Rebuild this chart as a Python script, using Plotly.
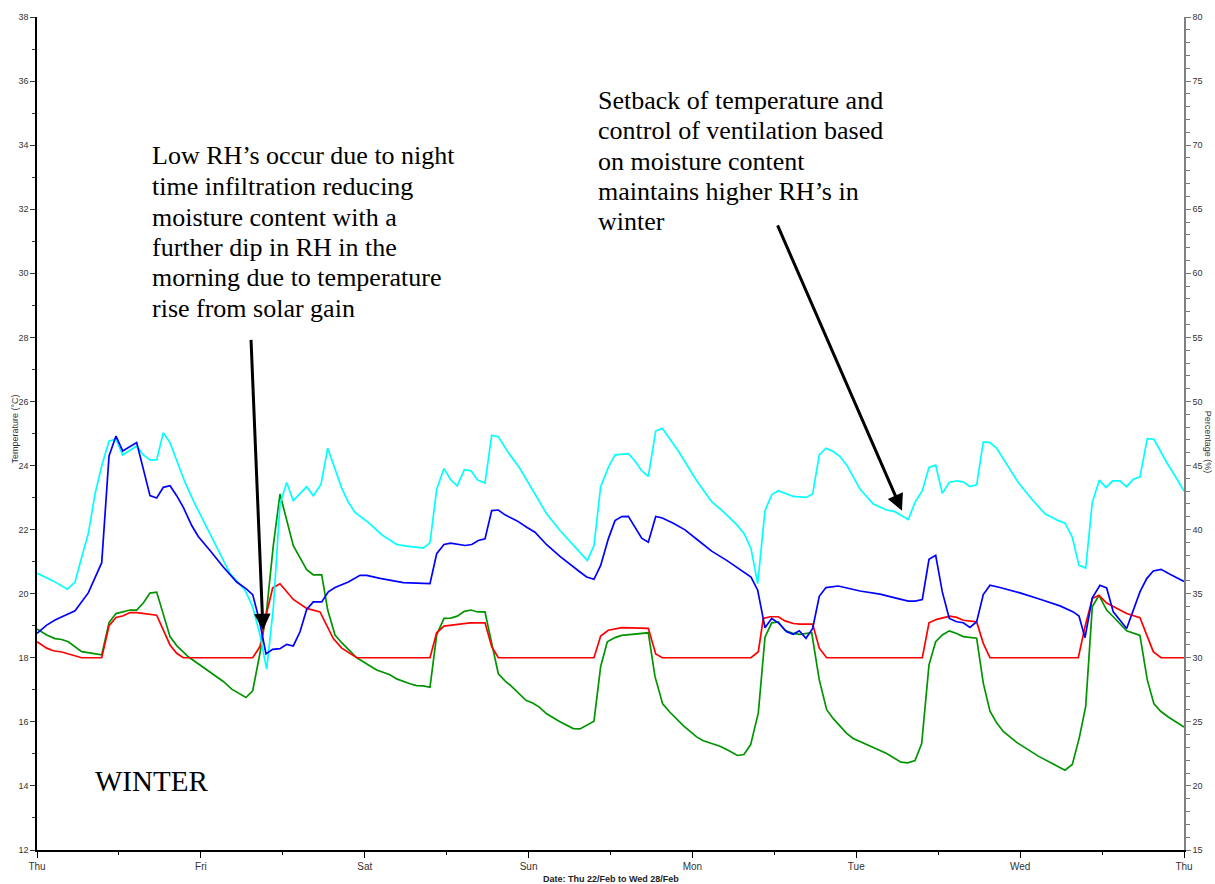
import plotly.graph_objects as go

# ---------------- data (hours since Thu 00:00) ----------------
day_labels = ["Thu", "Fri", "Sat", "Sun", "Mon", "Tue", "Wed", "Thu"]
day_ticks = [0, 24, 48, 72, 96, 120, 144, 168]
half_day_ticks = [12, 36, 60, 84, 108, 132, 156]

# red - temperature (°C, left axis)
red_t = [0, 1.42, 2.39, 3.62, 6.55, 9.48, 10.55, 11.57, 12.64, 13.62, 14.6, 16.55, 17.53, 19.48, 20.46, 21.43,
         31.59, 32.66, 33.64, 34.52, 35.59, 37.54, 39.5, 41.45, 43.4, 44.63, 46.83, 57.56, 58.54, 59.61, 63.42,
         65.62, 66.6, 67.57, 81.58, 82.56, 83.68, 85.64, 89.54, 90.62, 91.59, 104.58, 105.65, 106.38, 107.36,
         108.58, 109.56, 110.77, 111.75, 113.61, 114.58, 115.66, 129.67, 130.65, 131.78, 133.72, 134.7, 135.67,
         137.63, 138.6, 139.58, 152.52, 153.5, 154.57, 155.55, 156.67, 159.6, 161.55, 163.5, 164.63, 168]
red_v = [18.5, 18.3, 18.22, 18.18, 18.0, 18.0, 19.0, 19.26, 19.31, 19.41, 19.41, 19.35, 19.33, 18.4, 18.14, 18.0,
         18.0, 18.35, 19.4, 20.18, 20.31, 19.82, 19.54, 19.43, 18.6, 18.3, 18.0, 18.0, 18.78, 18.99, 19.09,
         19.09, 18.35, 18.0, 18.0, 18.68, 18.86, 18.94, 18.92, 18.12, 18.0, 18.0, 18.19, 19.23, 19.28,
         19.28, 19.15, 19.07, 19.05, 19.05, 18.3, 18.0, 18.0, 19.09, 19.2, 19.3, 19.26, 19.17,
         19.12, 18.45, 18.0, 18.0, 18.97, 19.85, 19.95, 19.71, 19.38, 19.25, 18.19, 18.0, 18.0]

# green - temperature (°C, left axis)
green_t = [0, 1.42, 2.64, 3.62, 4.58, 5.57, 6.55, 9.48, 10.55, 11.57, 12.64, 13.62, 14.6, 15.57, 16.55, 17.53,
           19.48, 20.46, 22.16, 25.34, 27.29, 28.52, 30.61, 31.59, 32.66, 33.64, 34.61, 35.59, 37.54, 39.5, 40.47,
           41.7, 42.58, 43.65, 44.63, 46.83, 49.75, 51.7, 52.68, 54.63, 55.61, 56.58, 57.56, 58.54, 59.61, 60.59,
           61.56, 62.59, 63.57, 64.55, 65.62, 66.6, 67.57, 68.55, 69.28, 71.62, 72.6, 73.57, 74.65, 76.6, 78.55,
           79.53, 81.58, 82.56, 83.53, 84.66, 85.64, 89.54, 90.52, 91.64, 92.71, 94.66, 96.62, 97.59, 100.04,
           101.5, 102.57, 103.55, 104.53, 105.65, 106.63, 107.61, 108.58, 109.56, 110.77, 111.75, 113.47, 114.58,
           115.66, 116.63, 118.59, 119.56, 122.49, 124.45, 126.55, 127.53, 128.6, 129.58, 130.65, 131.63, 132.6,
           133.62, 134.7, 135.67, 137.63, 138.6, 139.58, 140.56, 141.53, 143.49, 146.66, 148.85, 150.57, 151.64,
           152.66, 153.6, 154.57, 155.55, 156.67, 157.64, 159.6, 161.55, 162.62, 163.6, 164.58, 165.7, 167.66, 168]
green_v = [18.9, 18.71, 18.6, 18.57, 18.5, 18.33, 18.19, 18.09, 19.1, 19.38, 19.43, 19.49, 19.49, 19.71, 20.02, 20.05,
           18.66, 18.38, 18.03, 17.57, 17.26, 17.02, 16.76, 16.97, 18.14, 19.49, 21.5, 23.11, 21.5, 20.75, 20.59,
           20.59, 19.49, 18.71, 18.47, 18.0, 17.62, 17.47, 17.34, 17.19, 17.13, 17.12, 17.08, 18.71, 19.23, 19.24,
           19.3, 19.45, 19.49, 19.43, 19.43, 18.45, 17.5, 17.28, 17.15, 16.67, 16.59, 16.46, 16.25, 16.0, 15.79,
           15.78, 16.02, 17.73, 18.5, 18.63, 18.7, 18.78, 17.41, 16.56, 16.3, 15.88, 15.53, 15.41, 15.24,
           15.08, 14.95, 14.98, 15.29, 16.28, 18.64, 19.09, 19.12, 18.86, 18.76, 18.73, 18.78, 17.31,
           16.38, 16.1, 15.64, 15.48, 15.19, 15.01, 14.74, 14.72, 14.79, 15.32, 17.78, 18.5, 18.71,
           18.84, 18.76, 18.66, 18.61, 17.21, 16.33, 15.97, 15.7, 15.36, 14.93, 14.69, 14.49, 14.67,
           15.5, 16.48, 19.59, 19.95, 19.49, 19.28, 18.84, 18.7, 17.31, 16.56, 16.33, 16.15, 15.88, 15.84]

# blue - percentage (%, right axis)
blue_t = [0, 1.42, 2.64, 4.35, 5.57, 7.51, 9.48, 10.55, 11.57, 12.55, 14.6, 16.55, 17.53, 18.5, 19.48, 20.46, 21.43,
          22.66, 23.62, 25.34, 27.29, 29.25, 30.61, 31.59, 32.56, 33.54, 34.52, 35.59, 36.57, 37.54, 38.52, 39.5,
          40.47, 41.7, 42.67, 43.65, 45.6, 47.31, 48.29, 50.24, 53.65, 57.56, 58.54, 59.61, 60.59, 62.69, 63.67,
          64.64, 65.62, 66.6, 67.57, 68.55, 70.26, 71.73, 72.94, 74.65, 76.6, 79.53, 80.51, 81.58, 82.56, 83.68,
          84.66, 85.64, 86.61, 88.57, 89.54, 90.62, 91.59, 93.2, 94.91, 96.86, 98.82, 101.02, 102.97, 104.58,
          105.56, 106.63, 107.61, 108.58, 109.81, 110.77, 111.65, 112.63, 113.61, 114.58, 115.56, 117.36, 120.54,
          123.47, 125.67, 127.62, 128.6, 129.67, 130.65, 131.63, 132.6, 133.62, 134.7, 135.67, 136.65, 137.63,
          138.6, 139.58, 141.05, 143.98, 146.91, 149.84, 151.78, 152.62, 153.5, 154.57, 155.69, 156.67, 157.64,
          159.6, 161.55, 162.54, 163.5, 164.63, 165.95, 167.66, 168]
blue_v = [31.9, 32.55, 32.94, 33.33, 33.66, 35.06, 37.42, 45.75, 47.3, 46.14, 46.79, 42.65, 42.47, 43.3, 43.42, 42.65,
          41.74, 40.32, 39.46, 38.37, 37.08, 35.91, 35.4, 34.93, 32.94, 30.3, 30.66, 30.71, 31.05, 30.92, 32.03,
          33.77, 34.36, 34.36, 35.14, 35.48, 35.91, 36.43, 36.43, 36.2, 35.87, 35.79, 38.12, 38.84, 38.94, 38.76,
          38.84, 39.15, 39.28, 41.48, 41.53, 41.15, 40.7, 40.19, 39.8, 38.82, 37.91, 36.69, 36.3, 36.12, 37.21,
          39.28, 40.7, 41.02, 41.04, 39.33, 39.02, 41.02, 40.91, 40.5, 39.98, 39.15, 38.32, 37.6, 36.9, 36.3,
          35.27, 32.34, 33.07, 32.73, 32.03, 31.83, 32.11, 31.52, 32.29, 34.8, 35.48, 35.6, 35.21, 34.96,
          34.67, 34.42, 34.42, 34.55, 37.68, 37.99, 35.14, 33.07, 32.81, 32.73, 32.37, 32.81, 34.93, 35.66,
          35.48, 35.06, 34.57, 34.05, 33.58, 33.25, 31.57, 34.67, 35.66, 35.45, 33.58, 32.29, 35.14, 36.18,
          36.77, 36.9, 36.51, 36.05, 35.95]

# cyan - percentage (%, right axis)
cyan_t = [0, 2.39, 4.44, 5.57, 6.55, 7.51, 8.5, 9.48, 10.55, 11.57, 12.55, 14.6, 15.57, 16.55, 17.53, 18.5, 19.48,
          20.46, 21.68, 22.89, 24.36, 26.32, 28.27, 30.47, 31.59, 32.66, 33.64, 34.61, 35.59, 36.57, 37.54, 39.5,
          40.47, 41.6, 42.58, 44.63, 45.6, 46.58, 48.52, 50.5, 51.22, 52.68, 54.15, 56.58, 57.56, 58.54, 59.61,
          60.59, 61.56, 62.59, 63.57, 64.55, 65.62, 66.6, 67.57, 69.03, 70.64, 72.69, 74.65, 76.6, 78.55, 80.6,
          81.58, 82.56, 83.68, 84.66, 86.61, 87.59, 88.57, 89.54, 90.62, 91.59, 93.93, 96.62, 98.82, 100.52,
          102.48, 103.6, 104.58, 105.56, 106.63, 107.61, 108.58, 110.77, 112.63, 113.61, 114.58, 115.56, 116.63,
          117.61, 118.59, 120.54, 122.49, 124.45, 125.67, 127.62, 128.6, 129.67, 130.65, 131.63, 132.6, 133.62,
          134.7, 135.67, 136.65, 137.63, 138.6, 139.58, 140.56, 142.03, 143.73, 145.69, 147.64, 149.59, 150.57,
          151.64, 152.62, 153.6, 154.57, 155.6, 156.57, 157.55, 158.62, 159.6, 160.57, 161.55, 162.62, 163.6,
          165.46, 166.68, 167.66, 168]
cyan_v = [36.6, 36.0, 35.35, 35.91, 37.86, 39.67, 42.78, 44.98, 46.92, 47.05, 45.83, 46.53, 45.83, 45.44, 45.44,
          47.56, 46.79, 45.36, 43.68, 42.26, 40.7, 38.63, 36.57, 35.27, 33.97, 31.77, 29.11, 33.85, 42.0, 43.68,
          42.26, 43.35, 42.65, 43.55, 46.35, 43.24, 42.13, 41.35, 40.57, 39.6, 39.33, 38.84, 38.71, 38.55, 38.97,
          43.16, 44.76, 43.89, 43.42, 44.67, 44.59, 43.86, 43.63, 47.36, 47.25, 46.01, 44.85, 43.04, 41.23, 39.93,
          38.76, 37.6, 38.76, 43.35, 44.85, 45.83, 45.93, 45.36, 44.59, 44.15, 47.69, 47.9, 46.14, 43.81, 42.18,
          41.4, 40.39, 39.67, 38.51, 35.79, 41.48, 42.72, 43.04, 42.59, 42.51, 42.78, 45.83, 46.35, 46.09, 45.7,
          45.05, 43.16, 42.0, 41.53, 41.4, 40.78, 42.13, 43.04, 44.85, 45.03, 42.83, 43.68, 43.81, 43.73, 43.35,
          43.5, 46.84, 46.79, 46.35, 45.11, 43.68, 42.39, 41.23, 40.7, 40.5, 39.41, 37.21, 37.0, 42.13, 43.86,
          43.29, 43.81, 43.81, 43.35, 43.94, 44.12, 47.1, 47.05, 45.24, 44.2, 43.24, 43.0]

note_left = ["Low RH\u2019s occur due to night", "time infiltration reducing", "moisture content with a",
             "further dip in RH in the", "morning due to temperature", "rise from solar gain"]
note_right = ["Setback of temperature and", "control of ventilation based", "on moisture content",
              "maintains higher RH\u2019s in", "winter"]

# ---------------- figure ----------------
fig = go.Figure()
LW = 1.7
fig.add_trace(go.Scatter(x=cyan_t, y=cyan_v, yaxis="y2", mode="lines",
                         line=dict(color="#00FFFF", width=LW), showlegend=False))
fig.add_trace(go.Scatter(x=green_t, y=green_v, mode="lines",
                         line=dict(color="#009400", width=LW), showlegend=False))
fig.add_trace(go.Scatter(x=red_t, y=red_v, mode="lines",
                         line=dict(color="#FF0000", width=LW), showlegend=False))
fig.add_trace(go.Scatter(x=blue_t, y=blue_v, yaxis="y2", mode="lines",
                         line=dict(color="#0000FF", width=LW), showlegend=False))

sans = "Liberation Sans Narrow, Arial Narrow, Liberation Sans, Arial"
tickfont = dict(family=sans, size=10, color="#333333")
serif = "Liberation Serif, Times New Roman, serif"

annotations = []
# left note lines
left_y = [33.68, 32.71, 31.75, 30.82, 29.86, 28.89]
for txt, yy in zip(note_left, left_y):
    annotations.append(dict(x=16.6, y=yy, xref="x", yref="y", text=txt, showarrow=False,
                            xanchor="left", yanchor="middle", font=dict(family=serif, size=26, color="black")))
right_y = [35.40, 34.47, 33.50, 32.54, 31.61]
for txt, yy in zip(note_right, right_y):
    annotations.append(dict(x=81.9, y=yy, xref="x", yref="y", text=txt, showarrow=False,
                            xanchor="left", yanchor="middle", font=dict(family=serif, size=26, color="black")))
annotations.append(dict(x=8.2, y=14.14, xref="x", yref="y", text="WINTER", showarrow=False,
                        xanchor="left", yanchor="middle", font=dict(family=serif, size=29, color="black")))
# arrows
annotations.append(dict(x=33.10, y=18.86, ax=31.34, ay=27.97, xref="x", yref="y", axref="x", ayref="y",
                        text="", showarrow=True, arrowhead=2, arrowsize=1.1, arrowwidth=3, arrowcolor="black"))
annotations.append(dict(x=126.69, y=22.59, ax=108.38, ay=31.54, xref="x", yref="y", axref="x", ayref="y",
                        text="", showarrow=True, arrowhead=2, arrowsize=1.1, arrowwidth=3, arrowcolor="black"))
# axis titles
annotations.append(dict(x=-0.019, y=0.505, xref="paper", yref="paper", text="Temperature (\u00b0C)",
                        textangle=-90, showarrow=False, xanchor="center", yanchor="middle",
                        font=dict(family=sans, size=9, color="#333333")))
annotations.append(dict(x=1.021, y=0.49, xref="paper", yref="paper", text="Percentage (%)",
                        textangle=90, showarrow=False, xanchor="center", yanchor="middle",
                        font=dict(family=sans, size=9, color="#333333")))
annotations.append(dict(x=0.5, y=-0.035, xref="paper", yref="paper", text="<b>Date: Thu 22/Feb to Wed 28/Feb</b>",
                        showarrow=False, xanchor="center", yanchor="middle",
                        font=dict(family=sans, size=9, color="#222222")))

fig.update_layout(
    width=1215, height=884,
    margin=dict(l=37, r=31, t=14, b=33),
    paper_bgcolor="white", plot_bgcolor="white",
    showlegend=False,
    annotations=annotations,
    xaxis=dict(range=[0, 168], tickmode="array", tickvals=day_ticks, ticktext=day_labels,
               ticks="outside", ticklen=6, tickcolor="black", tickwidth=1,
               showline=True, linecolor="black", linewidth=1.5, showgrid=False, zeroline=False,
               tickfont=tickfont,
               minor=dict(tickmode="array", tickvals=half_day_ticks, ticks="outside", ticklen=3,
                          tickcolor="black", showgrid=False)),
    yaxis=dict(range=[12, 38], tick0=12, dtick=2, ticks="outside", ticklen=5, tickcolor="#333333",
               showline=True, linecolor="black", linewidth=1.5, showgrid=False, zeroline=False,
               tickfont=dict(family=sans, size=9, color="#333333"),
               minor=dict(dtick=1, ticks="outside", ticklen=3, tickcolor="#333333", showgrid=False)),
    yaxis2=dict(range=[15, 80], tick0=15, dtick=5, overlaying="y", side="right",
                ticks="outside", ticklen=5, tickcolor="#777777",
                showline=True, linecolor="#808080", linewidth=1.5, showgrid=False, zeroline=False,
                tickfont=dict(family=sans, size=9, color="#333333"),
                minor=dict(dtick=1, ticks="outside", ticklen=4, tickcolor="#777777", showgrid=False)),
)

fig.write_html("out.html")
